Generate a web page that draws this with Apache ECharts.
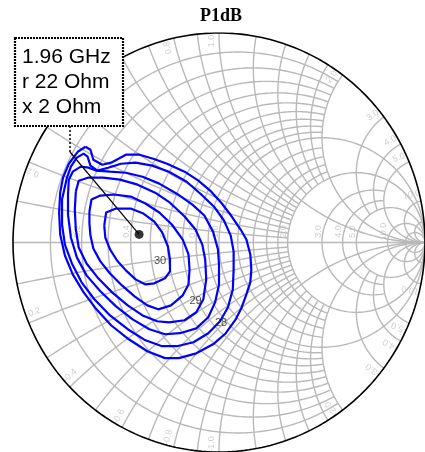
<!DOCTYPE html>
<html><head><meta charset="utf-8">
<script src="https://cdn.jsdelivr.net/npm/echarts@6/dist/echarts.min.js"></script>
<style>html,body{margin:0;padding:0;background:#fff}#c{width:425px;height:452px}</style>
</head><body><div id="c"></div>
<script>
// ---------- data ----------
const chartTitle = 'P1dB';
const z0 = 50;                       // reference impedance (Ohm)
const markerFreq = '1.96 GHz';
const markerR = 22;                  // Ohm
const markerX = 2;                   // Ohm

// contour lines, reflection coefficient (Re, Im)
const contour30 = [[-.557,.081],[-.548,.143],[-.5,.162],[-.429,.162],[-.367,.138],[-.314,.1],[-.276,.048],[-.248,-.019],[-.238,-.081],[-.238,-.138],[-.262,-.171],[-.314,-.195],[-.357,-.2],[-.405,-.176],[-.452,-.133],[-.495,-.086],[-.529,-.033],[-.552,.024]];
const contour29_5 = [[-.629,.148],[-.619,.205],[-.576,.224],[-.510,.229],[-.429,.219],[-.357,.186],[-.290,.143],[-.229,.086],[-.176,.014],[-.148,-.057],[-.143,-.129],[-.148,-.2],[-.176,-.252],[-.233,-.3],[-.295,-.319],[-.348,-.3],[-.410,-.257],[-.471,-.205],[-.529,-.148],[-.576,-.090],[-.610,-.029],[-.624,.033],[-.629,.090]];
const contour29 = [[-.695,.243],[-.681,.295],[-.633,.310],[-.562,.310],[-.481,.3],[-.395,.276],[-.310,.238],[-.238,.190],[-.167,.124],[-.114,.062],[-.081,-.010],[-.067,-.081],[-.062,-.176],[-.076,-.271],[-.110,-.333],[-.167,-.371],[-.243,-.381],[-.3,-.376],[-.371,-.348],[-.443,-.3],[-.519,-.238],[-.586,-.171],[-.643,-.1],[-.681,-.024],[-.695,.062],[-.7,.157]];
const contour28_5 = [[-.729,.3],[-.710,.338],[-.671,.362],[-.633,.357],[-.595,.343],[-.529,.338],[-.452,.333],[-.371,.314],[-.290,.281],[-.205,.233],[-.129,.181],[-.071,.129],[-.029,.052],[-.005,-.033],[0,-.105],[0,-.2],[-.019,-.286],[-.052,-.357],[-.110,-.410],[-.190,-.433],[-.262,-.438],[-.338,-.414],[-.419,-.367],[-.5,-.305],[-.576,-.233],[-.643,-.157],[-.690,-.071],[-.719,.024],[-.733,.133],[-.733,.229]];
const contour28 = [[-.738,.310],[-.719,.362],[-.690,.405],[-.657,.424],[-.638,.410],[-.624,.367],[-.590,.343],[-.538,.357],[-.476,.376],[-.405,.381],[-.324,.367],[-.243,.338],[-.157,.290],[-.086,.229],[-.024,.171],[.024,.105],[.057,.033],[.071,-.043],[.071,-.129],[.067,-.224],[.043,-.310],[.005,-.376],[-.052,-.433],[-.124,-.476],[-.205,-.495],[-.276,-.495],[-.357,-.467],[-.443,-.414],[-.529,-.348],[-.605,-.271],[-.667,-.190],[-.714,-.1],[-.748,-.010],[-.762,.086],[-.762,.205]];
const contour27_5 = [[-.648,.457],[-.624,.443],[-.610,.395],[-.567,.371],[-.524,.381],[-.452,.419],[-.386,.419],[-.319,.4],[-.252,.376],[-.167,.338],[-.1,.295],[-.043,.248],[.014,.186],[.062,.124],[.105,.062],[.133,.014],[.152,-.057],[.157,-.129],[.152,-.190],[.133,-.248],[.110,-.310],[.081,-.367],[.033,-.433],[-.029,-.486],[-.110,-.529],[-.195,-.552],[-.262,-.552],[-.348,-.519],[-.438,-.462],[-.524,-.395],[-.595,-.319],[-.657,-.238],[-.710,-.152],[-.748,-.062],[-.771,.038],[-.776,.143],[-.771,.238],[-.757,.310],[-.729,.376],[-.686,.433]];
const contours = [contour30, contour29_5, contour29, contour28_5, contour28, contour27_5];
const contourLabels = ['30', '29', '28'];
const contourLabelAt = [[-.286,-.090],[-.114,-.281],[.010,-.386]];

// Smith chart grid values: [value, limit of the other coordinate]
const minorVals = [0.1,0.2,0.3,0.4,0.5,0.6,0.7,0.8,0.9,1.2,1.4,1.6,1.8];
const resistanceCircles = minorVals.map(v => [v, 2]).concat([[1,Infinity],[2,Infinity],[3,5],[4,5],[5,Infinity],[10,Infinity],[20,Infinity]]);
const reactanceArcs = minorVals.map(v => [v, 2]).concat([[1,Infinity],[2,Infinity],[3,5],[4,5],[5,Infinity],[10,Infinity],[20,Infinity]]);
const rimLabels = [0.2,0.4,0.6,0.8,1.0,2.0,3.0,4.0,5.0,10.0];
const axisLabels = [0.2,0.4,0.6,0.8,1.0,2.0,3.0,4.0,5.0,10.0];

// ---------- build ----------
function gam(a, b) { const d = (a+1)*(a+1) + b*b; return [(a*a - 1 + b*b)/d, 2*b/d]; }
function rCurve(r, xl) { const T = Math.atan(xl), N = 300, p = []; for (let i = 0; i <= N; i++) { const t = -T + 2*T*i/N; p.push(gam(r, Math.tan(t))); } return p; }
function xCurve(x, rl) { const T = Math.atan(rl), N = 300, p = []; for (let i = 0; i <= N; i++) { const t = T*i/N; p.push(gam(Math.tan(t), x)); } return p; }

const gridPolys = [];
resistanceCircles.forEach(([r, l]) => gridPolys.push({coords: rCurve(r, l)}));
reactanceArcs.forEach(([x, l]) => { gridPolys.push({coords: xCurve(x, l)}); gridPolys.push({coords: xCurve(-x, l)}); });
gridPolys.push({coords: [[-1,0],[1,0]]});

const labelItems = [];
rimLabels.forEach(v => {
  [1, -1].forEach(s => {
    const g = gam(0, s*v); const th = Math.atan2(g[1], g[0]);
    const pos = [0.962*Math.cos(th) - s*0.038*Math.sin(th), 0.962*Math.sin(th) + s*0.038*Math.cos(th)];
    const rot = s > 0 ? th*180/Math.PI : th*180/Math.PI + 180;
    labelItems.push({value: pos, label: {formatter: (s < 0 ? '-' : '') + v.toFixed(1), rotate: rot}});
  });
});
axisLabels.forEach(v => {
  const g = gam(v, 0);
  labelItems.push({value: [g[0] - 0.019, 0.052], label: {formatter: v.toFixed(1), rotate: 90}});
});

const zn = [markerR / z0, markerX / z0];
const markerG = gam(zn[0], zn[1]);

const chart = echarts.init(document.getElementById('c'), null, {renderer: 'canvas'});
const series = [
  {type: 'lines', coordinateSystem: 'cartesian2d', polyline: true, silent: true, z: 1,
   lineStyle: {color: '#b9b9b9', width: 1.4, opacity: 1}, data: gridPolys},
  {type: 'line', data: rCurve(0, Infinity), symbol: 'none', silent: true, z: 3,
   lineStyle: {color: '#000', width: 1.6}},
  {type: 'scatter', data: labelItems, symbolSize: 0, silent: true, z: 2,
   label: {show: true, position: 'inside', color: '#c4c4c4', fontSize: 9, fontFamily: 'Liberation Sans'}}
];
contours.forEach(c => series.push({type: 'line', data: c.concat([c[0]]), symbol: 'none', silent: true, z: 5,
  lineStyle: {color: '#0000ff', width: 2.2}}));
series.push({type: 'scatter', data: contourLabelAt.map((p, i) => ({value: p, label: {formatter: contourLabels[i]}})),
  symbolSize: 0, silent: true, z: 6,
  label: {show: true, position: 'inside', color: '#222', fontSize: 11, fontFamily: 'Liberation Sans'}});
series.push({type: 'scatter', data: [markerG], symbol: 'circle', symbolSize: 9, silent: true, z: 8,
  itemStyle: {color: '#000'}});

chart.setOption({
  animation: false,
  backgroundColor: '#fff',
  grid: {left: 13, top: 33, width: 420, height: 420},
  xAxis: {type: 'value', min: -1, max: 1, show: false},
  yAxis: {type: 'value', min: -1, max: 1, show: false},
  series: series
});

const mp = chart.convertToPixel({gridIndex: 0}, markerG);
chart.setOption({
  graphic: [
    {type: 'text', x: 221, y: 16, z: 100, style: {text: chartTitle, font: 'bold 18px "Liberation Serif"', fill: '#000', textAlign: 'center', textVerticalAlign: 'middle'}},
    {type: 'line', z: 100, shape: {x1: 70, y1: 126, x2: 70, y2: 152}, style: {stroke: '#000', lineWidth: 1.5, lineDash: [2, 2]}},
    {type: 'line', z: 100, shape: {x1: 70, y1: 152, x2: mp[0], y2: mp[1]}, style: {stroke: '#000', lineWidth: 1.2}},
    {type: 'rect', z: 101, shape: {x: 15, y: 38, width: 108, height: 88}, style: {fill: '#fff', stroke: '#000', lineWidth: 2.2, lineDash: [2, 1]}},
    {type: 'text', z: 102, x: 22, y: 57, style: {text: markerFreq, font: '21px "Liberation Sans"', fill: '#000', textVerticalAlign: 'middle'}},
    {type: 'text', z: 102, x: 22, y: 82, style: {text: 'r ' + markerR + ' Ohm', font: '21px "Liberation Sans"', fill: '#000', textVerticalAlign: 'middle'}},
    {type: 'text', z: 102, x: 22, y: 107, style: {text: 'x ' + markerX + ' Ohm', font: '21px "Liberation Sans"', fill: '#000', textVerticalAlign: 'middle'}}
  ]
});
</script></body></html>
